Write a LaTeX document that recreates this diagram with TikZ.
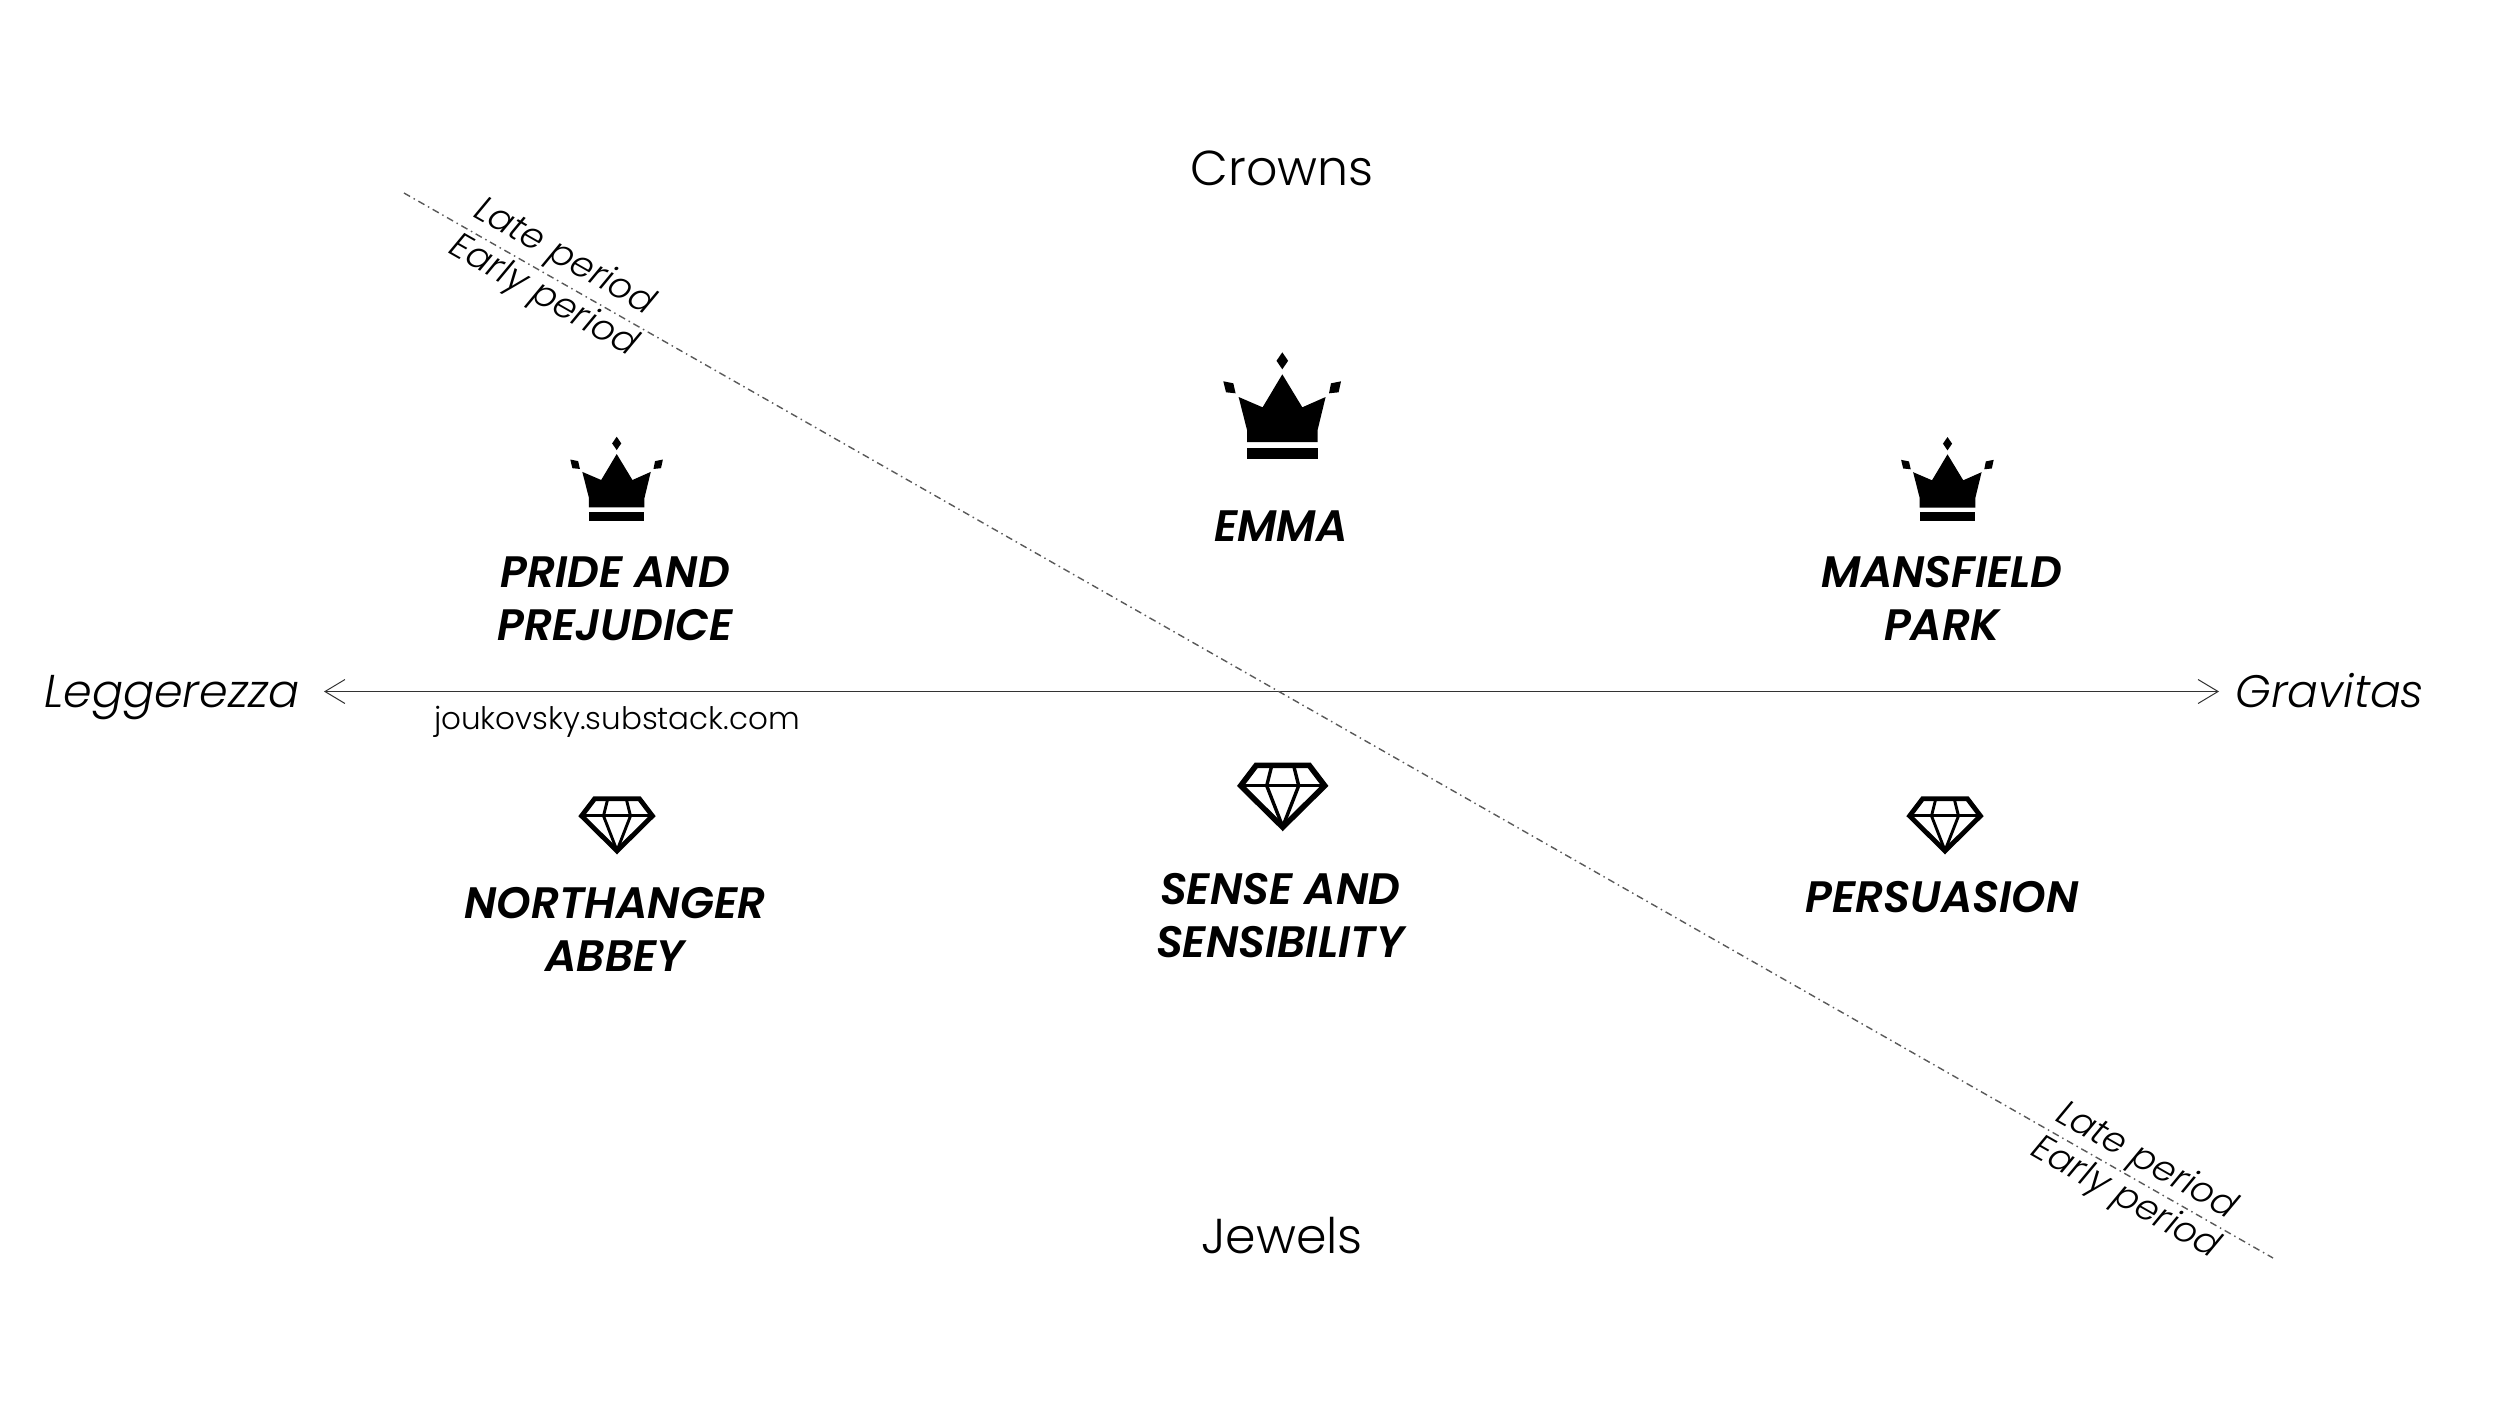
\documentclass[tikz,border=0pt]{standalone}
\usepackage{fontspec}
\usetikzlibrary{arrows.meta}
\setmainfont{Poppins}[UprightFont={* Light},ItalicFont={* Light Italic},BoldFont={* SemiBold},BoldItalicFont={* SemiBold Italic}]
\definecolor{axisgrey}{gray}{0.2}
\definecolor{diaggrey}{gray}{0.35}
\tikzset{
  px/.style={x=1pt,y=-1pt},
  title/.style={inner sep=0pt,align=center,font=\fontsize{44}{53}\selectfont\bfseries\itshape},
  pole/.style={inner sep=0pt,font=\fontsize{49}{56}\selectfont},
  side/.style={inner sep=0pt,anchor=base,font=\fontsize{46}{56}\selectfont\itshape},
  period/.style={inner sep=0pt,rotate=-29.7,font=\fontsize{36}{44}\selectfont\itshape},
  credit/.style={inner sep=0pt,font=\fontsize{31}{36}\selectfont},
  pics/crown/.style={code={
    \fill (0,0)--(5.8,8.5)--(0,17)--(-5.8,8.5)--cycle;
    \fill (0,22)--(20,55)--(43.3,44.7)--(35.3,77.7)--(35.3,89.7)--(-35.3,89.7)--(-35.3,77.7)--(-43.7,44.7)--(-19.7,55)--cycle;
    \fill (-35.3,95.3) rectangle (35.3,106.7);
    \fill (-59,29)--(-49,31)--(-46.7,41)--(-56.3,40)--cycle;
    \fill (58.7,29)--(48.7,31)--(46.7,41)--(56.3,40)--cycle;
  }},
  pics/gem/.style n args={2}{code={
    \draw[line width=#1,miter limit=10] (-26.5,2.6)--(26.5,2.6)--(42,23)--(0,64.5)--(-42,23)--cycle;
    \draw[line width=#2] (-42,23)--(42,23);
    \draw[line width=#2] (-11,3)--(-16,23)--(0,64)--(16,23)--(11,3);
  }}
}
\begin{document}
\begin{tikzpicture}[px]
\useasboundingbox (0,0) rectangle (2500,1406);
\coordinate (axisL) at (324,691.5);
\coordinate (axisR) at (2219,691.5);
\coordinate (diagA) at (404,193);
\coordinate (diagB) at (2273,1258);
\draw[axisgrey,line width=1.3pt,{Straight Barb[length=20pt,width=24pt,line width=1pt]}-{Straight Barb[length=20pt,width=24pt,line width=1pt]}] (axisL)--(axisR);
\draw[diaggrey,line width=1.4pt,dash pattern=on 7pt off 4pt on 1.5pt off 4pt] (diagA)--(diagB);
\node[pole] (crowns) at (1282,168) {Crowns};
\node[pole] (jewels) at (1282,1236) {Jewels};
\node[side] (legg) at (172,707) {Leggerezza};
\node[side,font=\fontsize{45.5}{56}\selectfont\itshape] (grav) at (2330,707) {Gravitas};
\node[credit] (credit) at (617,722) {joukovsky.substack.com};
\node[period] (lateA) at (564,258) {Late period};
\node[period] (earlyA) at (543,297) {Early period};
\node[period] (lateB) at (2146,1162) {Late period};
\node[period] (earlyB) at (2125,1199) {Early period};
\node[title] (emma) at (1281,526) {EMMA};
\node[title] (pride) at (615,598.5) {PRIDE AND\\PREJUDICE};
\node[title] (mans) at (1942,598.5) {MANSFIELD\\PARK};
\node[title] (north) at (615,929.5) {NORTHANGER\\ABBEY};
\node[title] (sense) at (1280,915.5) {SENSE AND\\SENSIBILITY};
\node[title] (pers) at (1942,897.5) {PERSUASION};
\pic at (1282.3,352.3) {crown};
\pic[scale=.787] at (616.7,436.7) {crown};
\pic[scale=.787] at (1947.5,437) {crown};
\pic at (1282.7,762.7) {gem={5.6pt}{3.4pt}};
\pic[scale=.844] at (617,796.5) {gem={4.8pt}{2.9pt}};
\pic[scale=.844] at (1945,796.5) {gem={4.8pt}{2.9pt}};
\end{tikzpicture}
\end{document}
